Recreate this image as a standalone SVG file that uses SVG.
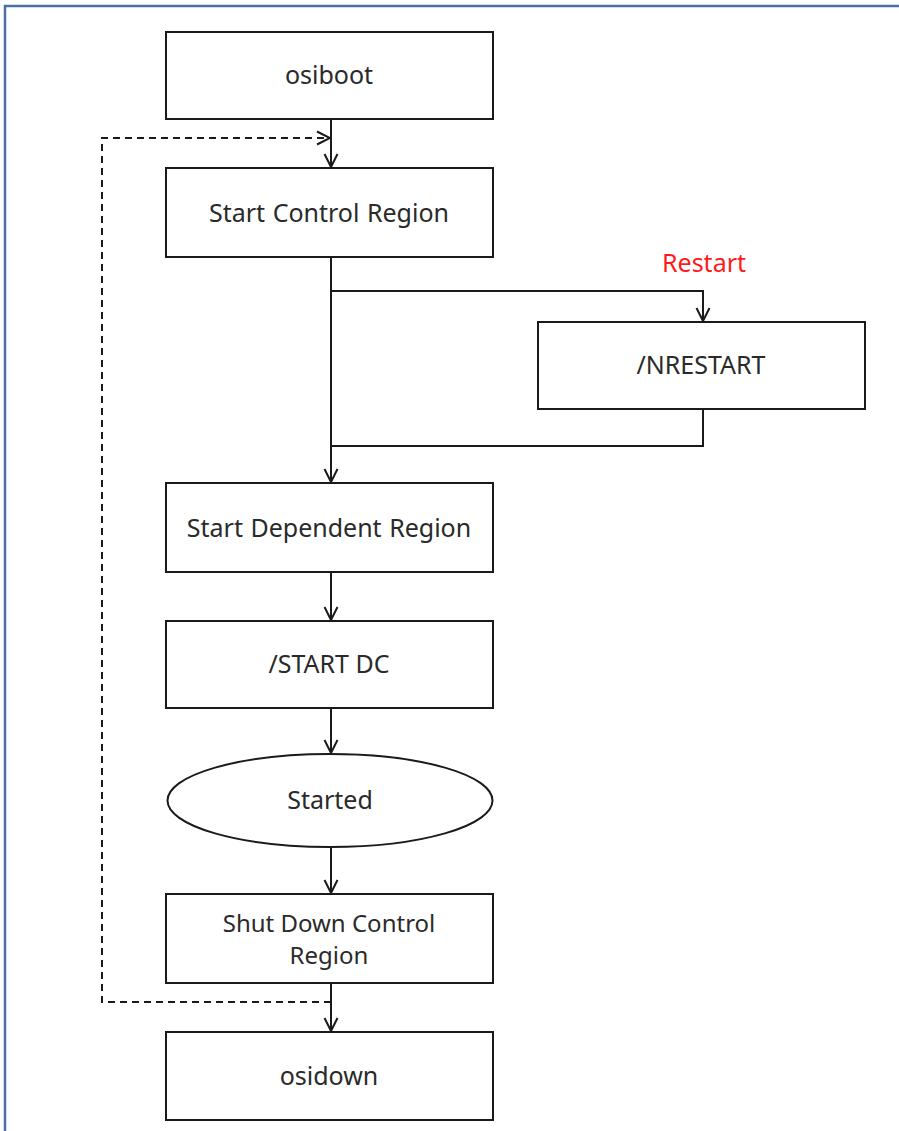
<svg xmlns="http://www.w3.org/2000/svg" width="899" height="1131" viewBox="0 0 899 1131">
  <defs>
    <marker id="open" viewBox="0 0 16 16" refX="14" refY="8" markerWidth="16" markerHeight="16" markerUnits="userSpaceOnUse" orient="auto">
      <path d="M1,1.5 L14,8 L1,14.5" fill="none" stroke="#1a1a1a" stroke-width="2"/>
    </marker>
  </defs>
  <style>
    .box { fill: #ffffff; stroke: #1a1a1a; stroke-width: 2; }
    .lbl { font-family: "Noto Sans", "Open Sans", "DejaVu Sans", sans-serif; font-size: 25px; fill: #2a2a2a; text-anchor: middle; }
    .two { font-size: 24px; }
    .red { fill: #ff1a1a; }
    .line { fill: none; stroke: #1a1a1a; stroke-width: 2; }
    .dash { stroke-dasharray: 7 5; }
  </style>

  <rect width="899" height="1131" fill="#ffffff"/>
  <!-- window frame -->
  <path d="M5,1131 V6 H899" fill="none" stroke="#4c6fa3" stroke-width="2.5"/>

  <g id="connectors">
    <line class="line" x1="331" y1="119" x2="331" y2="167" marker-end="url(#open)"/>
    <path class="line dash" d="M331,1002 H102 V138 H330" marker-end="url(#open)"/>
    <line class="line" x1="331" y1="257" x2="331" y2="482" marker-end="url(#open)"/>
    <path class="line" d="M331,291 H703 V321" marker-end="url(#open)"/>
    <path class="line" d="M703,409 V446 H331"/>
    <line class="line" x1="331" y1="572" x2="331" y2="620" marker-end="url(#open)"/>
    <line class="line" x1="331" y1="708" x2="331" y2="753" marker-end="url(#open)"/>
    <line class="line" x1="331" y1="847" x2="331" y2="893" marker-end="url(#open)"/>
    <line class="line" x1="331" y1="983" x2="331" y2="1031" marker-end="url(#open)"/>
    <text class="lbl red" x="704" y="272">Restart</text>
  </g>

  <g id="osiboot">
    <rect class="box" x="166" y="32" width="327" height="87"/>
    <text class="lbl" x="329" y="84">osiboot</text>
  </g>
  <g id="start-control">
    <rect class="box" x="166" y="168" width="327" height="89"/>
    <text class="lbl" x="329" y="222" word-spacing="1">Start Control Region</text>
  </g>
  <g id="nrestart">
    <rect class="box" x="538" y="322" width="327" height="87"/>
    <text class="lbl" x="701" y="374">/NRESTART</text>
  </g>
  <g id="start-dependent">
    <rect class="box" x="166" y="483" width="327" height="89"/>
    <text class="lbl" x="329" y="537" word-spacing="1">Start Dependent Region</text>
  </g>
  <g id="start-dc">
    <rect class="box" x="166" y="621" width="327" height="87"/>
    <text class="lbl" x="329" y="673">/START DC</text>
  </g>
  <g id="started">
    <ellipse class="box" cx="330" cy="800.5" rx="162.5" ry="46.5"/>
    <text class="lbl" x="330" y="809">Started</text>
  </g>
  <g id="shutdown">
    <rect class="box" x="166" y="894" width="327" height="89"/>
    <text class="lbl two" x="329" y="932">Shut Down Control</text>
    <text class="lbl two" x="329" y="964">Region</text>
  </g>
  <g id="osidown">
    <rect class="box" x="166" y="1032" width="327" height="88"/>
    <text class="lbl" x="329" y="1085">osidown</text>
  </g>
</svg>
